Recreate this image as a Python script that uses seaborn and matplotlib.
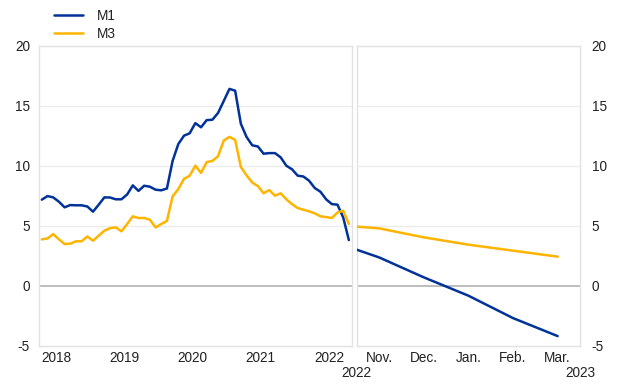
import matplotlib
matplotlib.use("Agg")
import matplotlib.pyplot as plt
import seaborn as sns
import pandas as pd
import numpy as np
from matplotlib.lines import Line2D

# ---------------- data ----------------
months = pd.date_range("2018-04-01", "2022-10-01", freq="MS")
m1_hist = [7.17, 7.47, 7.36, 7.0, 6.53, 6.72, 6.7, 6.7, 6.6,
           6.17, 6.75, 7.36, 7.35, 7.2, 7.2, 7.6, 8.36, 7.9, 8.33, 8.25, 8.0,
           7.95, 8.1, 10.4, 11.8, 12.5, 12.7, 13.55, 13.2, 13.8, 13.83, 14.4, 15.4,
           16.4, 16.25, 13.5, 12.4, 11.7, 11.6, 11.0, 11.05, 11.05, 10.7, 10.0, 9.7,
           9.17, 9.1, 8.75, 8.14, 7.83, 7.2, 6.8, 6.75, 5.7, 3.8]
m3_hist = [3.86, 3.94, 4.3, 3.86, 3.47, 3.5, 3.7, 3.7, 4.1,
           3.75, 4.17, 4.58, 4.8, 4.86, 4.53, 5.14, 5.78, 5.64, 5.64, 5.5, 4.86,
           5.14, 5.4, 7.45, 8.05, 8.9, 9.17, 10.0, 9.4, 10.3, 10.4, 10.8, 12.1,
           12.4, 12.15, 9.9, 9.2, 8.6, 8.3, 7.7, 7.97, 7.5, 7.7, 7.2, 6.8,
           6.47, 6.33, 6.2, 6.03, 5.78, 5.72, 5.64, 6.1, 6.25, 5.14]
year_labels = ["2018", "2019", "2020", "2021", "2022"]

# right panel: months after Oct 2022
proj_months = [0.5, 1, 2, 3, 4, 5]
proj_labels = ["Nov.", "Dec.", "Jan.", "Feb.", "Mar."]
m1_proj = [3.0, 2.36, 0.7, -0.83, -2.7, -4.2]
m3_proj = [4.92, 4.78, 4.03, 3.42, 2.92, 2.42]
y_ticks = [-5, 0, 5, 10, 15, 20]

# ---------------- style ----------------
BLUE = "#003299"
YELLOW = "#FFB400"
GRID = "#ececec"
FRAME = "#e2e2e2"
ZERO = "#bdbdbd"
TXT = "#222222"
FS = 9.8

sns.set_style("white")
plt.rcParams["font.family"] = ["Liberation Sans", "DejaVu Sans"]
plt.rcParams["font.size"] = FS
plt.rcParams["axes.unicode_minus"] = False

hist = pd.DataFrame({"x": np.arange(len(months)), "M1": m1_hist, "M3": m3_hist})
hist_long = hist.melt("x", var_name="series", value_name="value")
proj = pd.DataFrame({"x": proj_months, "M1": m1_proj, "M3": m3_proj})
proj_long = proj.melt("x", var_name="series", value_name="value")
palette = {"M1": BLUE, "M3": YELLOW}

fig = plt.figure(figsize=(6.2, 3.87), dpi=100)
axL = fig.add_axes([39 / 620, 1 - 345.7 / 387, (351.7 - 39) / 620, 300 / 387])
axR = fig.add_axes([356.7 / 620, 1 - 345.7 / 387, (580 - 356.7) / 620, 300 / 387])

for ax, data in ((axL, hist_long), (axR, proj_long)):
    for v in y_ticks[2:]:
        ax.axhline(v, color=GRID, lw=1, zorder=0)
    ax.axhline(0, color=ZERO, lw=1.4, zorder=1)
    sns.lineplot(data=data, x="x", y="value", hue="series", palette=palette,
                 lw=1.8, ax=ax, legend=False, zorder=3)
    ax.set_ylim(-5, 20)
    ax.set_yticks(y_ticks)
    ax.set_xlabel("")
    ax.set_ylabel("")
    for s in ax.spines.values():
        s.set_color(FRAME)
        s.set_linewidth(1)
    ax.tick_params(axis="both", colors=TXT, labelsize=FS, length=0)

# left axis
n = len(months)
axL.set_xlim(-0.5, n - 0.5)
mlist = list(months)
mid_pos = [mlist.index(pd.Timestamp(f"{y}-07-01")) - 0.5 for y in year_labels]
jan_pos = [mlist.index(pd.Timestamp(f"{y}-01-01")) - 0.5 for y in year_labels[1:]]
axL.set_xticks(mid_pos)
axL.set_xticklabels(year_labels)
axL.set_xticks(jan_pos, minor=True)
axL.tick_params(axis="x", which="major", length=0, pad=3.5)
axL.tick_params(axis="x", which="minor", length=4, color=FRAME, width=1)
axL.tick_params(axis="y", pad=6.5)

# right axis
axR.set_xlim(0.5, 5.5)
axR.set_xticks(proj_months[1:])
axR.set_xticklabels(proj_labels)
axR.tick_params(axis="x", pad=3.5)
axR.yaxis.tick_right()
axR.tick_params(axis="y", pad=8.5, labelleft=False, labelright=True)
for lab in axR.get_yticklabels():
    lab.set_horizontalalignment("left")

# second row year labels
axR.text(0.5, -0.092, "2022", transform=axR.get_xaxis_transform(), ha="center",
         va="center", fontsize=FS, color=TXT)
axR.text(5.5, -0.092, "2023", transform=axR.get_xaxis_transform(), ha="center",
         va="center", fontsize=FS, color=TXT)

# legend
handles = [Line2D([], [], color=BLUE, lw=1.8), Line2D([], [], color=YELLOW, lw=1.8)]
fig.legend(handles, ["M1", "M3"], loc="upper left", bbox_to_anchor=(47 / 620, 1 - 2 / 387),
           frameon=False, borderpad=0, handlelength=2.15, handletextpad=1.0,
           labelspacing=0.3, fontsize=FS, labelcolor=TXT)

fig.savefig("out.png", dpi=100)
